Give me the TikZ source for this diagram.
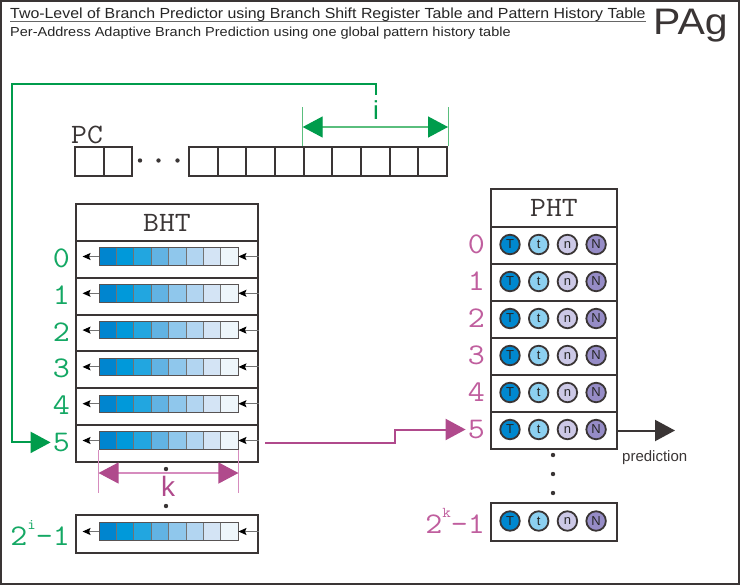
\documentclass[tikz,border=0pt]{standalone}
\usepackage{fontspec}
\setmainfont{Liberation Sans}
\usepackage{graphicx}
\usetikzlibrary{arrows.meta,calc}

\definecolor{frame}{RGB}{58,53,53}
\definecolor{grn}{RGB}{0,156,76}
\definecolor{grnlab}{RGB}{20,168,100}
\definecolor{grnthin}{RGB}{90,190,125}
\definecolor{mag}{RGB}{176,74,140}
\definecolor{maglab}{RGB}{192,94,158}
\definecolor{magthin}{RGB}{214,140,190}
\definecolor{ca}{RGB}{0,133,207}
\definecolor{cb}{RGB}{0,153,218}
\definecolor{cc}{RGB}{34,166,224}
\definecolor{cd}{RGB}{98,179,227}
\definecolor{ce}{RGB}{143,199,236}
\definecolor{cf}{RGB}{178,213,241}
\definecolor{cg}{RGB}{212,228,245}
\definecolor{ch}{RGB}{238,246,251}
\definecolor{pT}{RGB}{0,136,207}
\definecolor{pt}{RGB}{140,208,240}
\definecolor{pn}{RGB}{204,200,230}
\definecolor{pN}{RGB}{150,140,198}

\newcommand\monotxt[2][30]{\scalebox{1.1}[1]{\fontsize{#1}{#1}\selectfont\ttfamily #2}}

\newcommand\register[3]{%
  \foreach \colr [count=\n from 0] in {ca,cb,cc,cd,ce,cf,cg,ch}
    \fill[\colr] ({#2-69.5+17.375*\n},{#3-8.75}) rectangle ++(17.375,17.5);
  \foreach \n in {1,...,7}
    \draw[black!55, line width=0.6pt] ({#2-69.5+17.375*\n},{#3-8.75}) -- ++(0,17.5);
  \node[reg] (#1) at (#2,#3) {};
}

\tikzset{
  tbox/.style={draw=frame, line width=2pt, fill=white, inner sep=0, anchor=north west, text=frame},
  bhtrow/.style={tbox, minimum width=182pt, minimum height=36.8pt},
  phtrow/.style={tbox, minimum width=126pt, minimum height=37pt},
  pcbox/.style={draw=frame, line width=2pt, minimum width=28.67pt, minimum height=29pt, inner sep=0, anchor=north west},
  reg/.style={draw=frame!85, line width=0.9pt, minimum width=139pt, minimum height=17.5pt, inner sep=0},
  bit/.style={circle, draw=frame, line width=1.8pt, minimum size=19.5pt, inner sep=0, font=\fontsize{13}{13}\selectfont, text=black!85},
  glab/.style={text=grnlab, anchor=east, inner sep=2pt},
  mlab/.style={text=maglab, anchor=east, inner sep=2pt},
  bigtip/.tip={Triangle[length=20pt,width=21pt]},
  smarr/.style={draw=black!55, line width=1pt, -{Stealth[length=8pt,width=7pt,inset=1.5pt,black]}},
  dotn/.style={circle, fill=frame, inner sep=0, minimum size=4.4pt},
}

\begin{document}
\begin{tikzpicture}[x=1pt,y=-1pt]
\fill[white] (0,0) rectangle (743,586);
\useasboundingbox (0,0) rectangle (743,586);
\draw[frame, line width=2pt] (1,1) rectangle (739,584);

% titles
\node[anchor=base west, inner sep=0, text=black!85] (title) at (10,19)
  {\scalebox{1}[0.92]{\fontsize{15.9}{16}\selectfont Two-Level of Branch Predictor using Branch Shift Register Table and Pattern History Table}};
\draw[black!60, line width=0.9pt] ([yshift=-2.5pt]title.base west) -- ([yshift=-2.5pt]title.base east);
\node[anchor=base west, inner sep=0, text=black!85] (subtitle) at (10,37)
  {\scalebox{1}[0.9]{\fontsize{14.5}{15}\selectfont Per-Address Adaptive Branch Prediction using one global pattern history table}};
\node[anchor=base west, inner sep=0, text=frame] (pag) at (653,35) {\scalebox{1}[0.9]{\fontsize{41}{41}\selectfont PAg}};

% PC
\node[anchor=base west, inner sep=0, text=frame] (pclab) at (71,143) {\monotxt[28]{PC}};
\node[pcbox] (pa) at (74,146) {};
\node[pcbox] (pb) at (102.67,146) {};
\foreach \j in {0,...,8} \node[pcbox] (pc\j) at ({188+28.67*\j},146) {};
\node[dotn] (d1) at (140,160.5) {};
\node[dotn] (d2) at (158.5,160.5) {};
\node[dotn] (d3) at (177.5,160.5) {};

% i range
\draw[grnthin, line width=1pt] (pc4.north west) -- (pc4.north west |- 0,107);
\draw[grnthin, line width=1pt] (pc8.north east) -- (pc8.north east |- 0,107);
\draw[grnthin, line width=1.3pt, {bigtip[color=grn]}-{bigtip[color=grn]}] (pc4.north west |- 0,127) -- (pc8.north east |- 0,127);
\node[font=\fontsize{26}{26}\selectfont, text=grn, inner sep=0, anchor=base] (ilab) at (376,119) {i};

% BHT
\node[bhtrow, minimum height=37pt] (bht) at (75,203) {\monotxt[28]{BHT}};
\foreach \i in {0,...,5} {
  \pgfmathsetmacro\rt{240+36.8*\i}
  \node[bhtrow] (r\i) at (75,\rt) {};
  \register{g\i}{168.5}{\rt+16.5}
  \draw[smarr] (g\i.west) -- ([xshift=-16pt]g\i.west);
  \draw[smarr] (r\i.east |- g\i.east) -- (g\i.east);
  \node[glab] (bl\i) at (72,\rt+18.4) {\monotxt{\i}};
}
\node[bhtrow, minimum height=38pt] (rl) at (75,514) {};
\register{gl}{168.5}{531.5}
\draw[smarr] (gl.west) -- ([xshift=-16pt]gl.west);
\draw[smarr] (rl.east |- gl.east) -- (gl.east);
\node[glab] (bll) at (72,533) {\monotxt{2\raisebox{0.55em}{\fontsize{15}{15}\selectfont i}-1}};

\node[dotn] (bd1) at (166,469) {};
\node[dotn] (bd2) at (166,506) {};

% k range
\draw[magthin, line width=1pt] (g5.south west) -- (g5.south west |- 0,493);
\draw[magthin, line width=1pt] (g5.south east) -- (g5.south east |- 0,493);
\draw[magthin, line width=1.2pt, {bigtip[color=mag]}-{bigtip[color=mag]}] (g5.south west |- 0,473) -- (g5.south east |- 0,473);
\node[font=\fontsize{28}{28}\selectfont, text=mag, inner sep=0] (klab) at (168,486) {k};

% PHT
\node[phtrow, minimum height=38pt] (pht) at (490,188) {\monotxt[28]{PHT}};
\foreach \i in {0,...,5} {
  \pgfmathsetmacro\rt{226+37*\i}
  \node[phtrow] (q\i) at (490,\rt) {};
  \foreach \l/\c [count=\n from 0] in {T/pT,t/pt,n/pn,N/pN}
    \node[bit, fill=\c] (b\i\n) at ({510+28.7*\n},\rt+18.5) {\l};
  \node[mlab] (pl\i) at (487,\rt+18.5) {\monotxt{\i}};
}
\node[phtrow, minimum height=38pt] (ql) at (490,502) {};
\foreach \l/\c [count=\n from 0] in {T/pT,t/pt,n/pn,N/pN}
  \node[bit, fill=\c] (bl\n) at ({510+28.7*\n},521) {\l};
\node[mlab] (pll) at (487,521) {\monotxt{2\raisebox{0.55em}{\fontsize{15}{15}\selectfont k}-1}};

\node[dotn] (pd1) at (553,455) {};
\node[dotn] (pd2) at (553,474) {};
\node[dotn] (pd3) at (553,493) {};

% connectors
\draw[grn, line width=2pt, -bigtip] ([yshift=5pt]ilab.north) |- (12,84) |- (bl5.west);
\draw[mag, line width=2pt, -bigtip] ([xshift=6pt]r5.east) -- ([xshift=136pt]r5.east) |- (pl5.west);
\node[anchor=base west, inner sep=0, font=\fontsize{15}{15}\selectfont, text=frame] (pred) at (622,461) {prediction};
\draw[frame, line width=2pt, -bigtip] (q5.east) -- ([xshift=57pt]q5.east);
\end{tikzpicture}
\end{document}
